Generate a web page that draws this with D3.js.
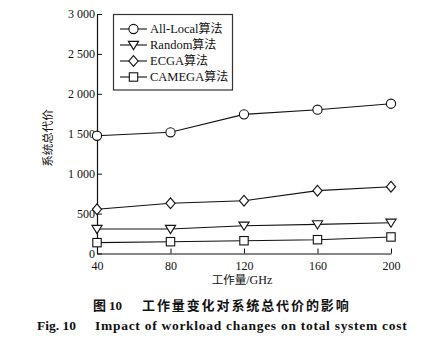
<!DOCTYPE html>
<html><head><meta charset="utf-8">
<script src="https://cdn.jsdelivr.net/npm/d3@7"></script>
<style>
body{margin:0;background:#fff;}
svg{display:block;}
</style></head>
<body>
<script>
const workloads = [40, 80, 120, 160, 200];
const allLocal = [1475, 1518, 1743, 1801, 1876];
const randomAlg = [307, 307, 348, 365, 386];
const ecga = [554, 629, 661, 787, 837];
const camega = [136, 148, 160, 173, 207];
const seriesNames = ["All-Local算法", "Random算法", "ECGA算法", "CAMEGA算法"];
const seriesShapes = ["circle", "triangle", "diamond", "square"];
const yTicks = [0, 500, 1000, 1500, 2000, 2500, 3000];
const yTickLabels = ["0", "500", "1 000", "1 500", "2 000", "2 500", "3 000"];
const xLabel = "工作量/GHz";
const yLabel = "系统总代价";
const caption1a = "图 10";
const caption1b = "工作量变化对系统总代价的影响";
const caption2a = "Fig. 10";
const caption2b = "Impact of workload changes on total system cost";

const W = 433, H = 341;
const serif = "'Liberation Serif','Times New Roman',serif";
const cjk = "'Noto Sans CJK SC',sans-serif";
const svg = d3.select("body").append("svg").attr("width", W).attr("height", H);

const x = d3.scaleLinear().domain([40, 200]).range([97, 391]);
const y = d3.scaleLinear().domain([0, 3000]).range([253.5, 14]);

// axes with inward ticks
const xAxis = d3.axisBottom(x).tickValues(workloads).tickSizeInner(-5).tickSizeOuter(0).tickPadding(8);
const gx = svg.append("g").attr("transform", "translate(0,253.5)").call(xAxis);
const yAxis = d3.axisLeft(y).tickValues(yTicks).tickFormat((d,i)=>yTickLabels[i]).tickSizeInner(-5).tickSizeOuter(0).tickPadding(2);
const gy = svg.append("g").attr("transform", "translate(97,0)").call(yAxis);
[gx, gy].forEach(g => {
  g.select(".domain").attr("stroke", "#111").attr("stroke-width", 1.2);
  g.selectAll(".tick line").attr("stroke", "#111").attr("stroke-width", 1);
  g.selectAll(".tick text").attr("font-family", serif).attr("font-size", 12).attr("fill", "#111");
});

function marker(g, shape, cx, cy) {
  const s = 4.6;
  let el;
  if (shape === "circle") el = g.append("circle").attr("cx", cx).attr("cy", cy).attr("r", s);
  else if (shape === "triangle") el = g.append("path").attr("d", `M${cx-s-0.5},${cy-s+1}L${cx+s+0.5},${cy-s+1}L${cx},${cy+s}Z`);
  else if (shape === "diamond") el = g.append("path").attr("d", `M${cx},${cy-s-0.8}L${cx+s},${cy}L${cx},${cy+s+0.8}L${cx-s},${cy}Z`);
  else el = g.append("rect").attr("x", cx-s+0.4).attr("y", cy-s+0.4).attr("width", 2*s-0.8).attr("height", 2*s-0.8);
  el.attr("fill", "#fff").attr("stroke", "#111").attr("stroke-width", 1.1);
}

const allSeries = [allLocal, randomAlg, ecga, camega];
const line = d3.line().x((d,i)=>x(workloads[i])).y(d=>y(d));
allSeries.forEach((vals, k) => {
  const g = svg.append("g");
  g.append("path").attr("d", line(vals)).attr("fill", "none").attr("stroke", "#111").attr("stroke-width", 1.1);
  vals.forEach((v, i) => marker(g, seriesShapes[k], x(workloads[i]), y(v)));
});

// legend
const lg = svg.append("g");
lg.append("rect").attr("x", 113.5).attr("y", 14.5).attr("width", 119).attr("height", 75.5)
  .attr("fill", "#fff").attr("stroke", "#333").attr("stroke-width", 1.2);
const rowY = [29, 45, 61, 77];
seriesNames.forEach((name, k) => {
  lg.append("line").attr("x1", 120).attr("x2", 147).attr("y1", rowY[k]).attr("y2", rowY[k]).attr("stroke", "#111").attr("stroke-width", 1.1);
  marker(lg, seriesShapes[k], 133.5, rowY[k]);
  const t = lg.append("text").attr("x", 150).attr("y", rowY[k]).attr("dy", "0.35em")
    .attr("font-family", serif).attr("font-size", 12.5).attr("fill", "#111");
  const m = name.match(/^(.*?)(算法)$/);
  t.append("tspan").text(m[1]);
  t.append("tspan").attr("font-family", cjk).attr("font-size", 12).text(m[2]);
});

// axis labels
svg.append("text").attr("x", 242).attr("y", 280).attr("dy", "0.35em").attr("text-anchor", "middle")
  .attr("font-family", cjk).attr("font-size", 11.5).attr("fill", "#111")
  .call(t => { t.append("tspan").text("工作量"); t.append("tspan").attr("font-family", serif).attr("font-size", 12).text("/GHz"); });
svg.append("text").attr("transform", "translate(48,138) rotate(-90)").attr("dy", "0.35em").attr("text-anchor", "middle")
  .attr("font-family", cjk).attr("font-size", 11.5).attr("fill", "#111").text(yLabel);

// captions
const c1 = svg.append("text").attr("y", 304).attr("dy", "0.35em").attr("font-weight", "bold").attr("fill", "#111");
c1.append("tspan").attr("x", 93).attr("font-family", cjk).attr("font-size", 13).text("图 ");
c1.append("tspan").attr("font-family", serif).attr("font-size", 13).text("10");
c1.append("tspan").attr("x", 142).attr("font-family", cjk).attr("font-size", 13).attr("letter-spacing", 1.9).text(caption1b);
const c2 = svg.append("text").attr("y", 325.5).attr("dy", "0.35em").attr("font-weight", "bold").attr("fill", "#111")
  .attr("font-family", serif).attr("font-size", 13.5);
c2.append("tspan").attr("x", 37).text(caption2a);
c2.append("tspan").attr("x", 95).attr("letter-spacing", 0.72).text(caption2b);
</script>
</body></html>
